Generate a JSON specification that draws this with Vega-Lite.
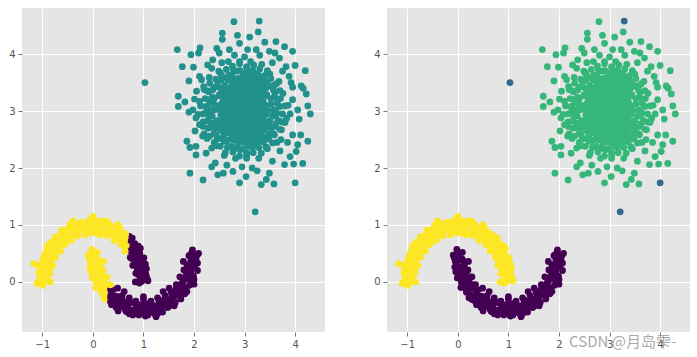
{
"$schema": "https://vega.github.io/schema/vega-lite/v6.json",
"background": "white",
"padding": {"left": 8, "top": 8, "right": 0, "bottom": 0},
"spacing": 48,
"config": {
"view": {"fill": "#e5e5e5", "stroke": null},
"axis": {"grid": true, "gridColor": "white", "gridWidth": 1, "domain": false, "tickColor": "#555555", "tickSize": 4, "tickWidth": 0.8, "labelColor": "#555555", "labelFont": "DejaVu Sans", "labelFontSize": 10, "labelPadding": 3, "title": null, "format": "d"},
"axisY": {"minExtent": 14, "maxExtent": 14}
},
"data": {"values": [
{"x":2.87,"y":2.47,"k":"B"},{"x":2.98,"y":2.45,"k":"B"},{"x":3.06,"y":2.48,"k":"B"},
{"x":2.75,"y":2.55,"k":"B"},{"x":2.83,"y":2.53,"k":"B"},{"x":2.93,"y":2.55,"k":"B"},{"x":3.02,"y":2.54,"k":"B"},{"x":3.11,"y":2.52,"k":"B"},{"x":3.19,"y":2.55,"k":"B"},
{"x":2.61,"y":2.63,"k":"B"},{"x":2.71,"y":2.61,"k":"B"},{"x":2.79,"y":2.62,"k":"B"},{"x":2.89,"y":2.64,"k":"B"},{"x":2.96,"y":2.61,"k":"B"},{"x":3.06,"y":2.63,"k":"B"},{"x":3.16,"y":2.62,"k":"B"},{"x":3.23,"y":2.60,"k":"B"},{"x":3.33,"y":2.63,"k":"B"},
{"x":2.57,"y":2.71,"k":"B"},{"x":2.65,"y":2.69,"k":"B"},{"x":2.75,"y":2.70,"k":"B"},{"x":2.84,"y":2.72,"k":"B"},{"x":2.92,"y":2.70,"k":"B"},{"x":3.02,"y":2.69,"k":"B"},{"x":3.10,"y":2.71,"k":"B"},{"x":3.20,"y":2.70,"k":"B"},{"x":3.28,"y":2.68,"k":"B"},{"x":3.38,"y":2.71,"k":"B"},
{"x":2.52,"y":2.79,"k":"B"},{"x":2.62,"y":2.77,"k":"B"},{"x":2.70,"y":2.78,"k":"B"},{"x":2.79,"y":2.80,"k":"B"},{"x":2.88,"y":2.77,"k":"B"},{"x":2.97,"y":2.79,"k":"B"},{"x":3.07,"y":2.78,"k":"B"},{"x":3.15,"y":2.76,"k":"B"},{"x":3.24,"y":2.79,"k":"B"},{"x":3.33,"y":2.78,"k":"B"},{"x":3.42,"y":2.80,"k":"B"},
{"x":2.56,"y":2.87,"k":"B"},{"x":2.66,"y":2.85,"k":"B"},{"x":2.74,"y":2.86,"k":"B"},{"x":2.84,"y":2.87,"k":"B"},{"x":2.93,"y":2.85,"k":"B"},{"x":3.01,"y":2.86,"k":"B"},{"x":3.11,"y":2.87,"k":"B"},{"x":3.19,"y":2.85,"k":"B"},{"x":3.29,"y":2.86,"k":"B"},{"x":3.37,"y":2.88,"k":"B"},
{"x":2.53,"y":2.93,"k":"B"},{"x":2.61,"y":2.95,"k":"B"},{"x":2.71,"y":2.94,"k":"B"},{"x":2.79,"y":2.93,"k":"B"},{"x":2.88,"y":2.95,"k":"B"},{"x":2.97,"y":2.94,"k":"B"},{"x":3.06,"y":2.96,"k":"B"},{"x":3.16,"y":2.94,"k":"B"},{"x":3.24,"y":2.93,"k":"B"},{"x":3.34,"y":2.95,"k":"B"},{"x":3.42,"y":2.94,"k":"B"},
{"x":2.48,"y":3.03,"k":"B"},{"x":2.56,"y":3.01,"k":"B"},{"x":2.66,"y":3.02,"k":"B"},{"x":2.75,"y":3.04,"k":"B"},{"x":2.83,"y":3.02,"k":"B"},{"x":2.93,"y":3.01,"k":"B"},{"x":3.02,"y":3.03,"k":"B"},{"x":3.10,"y":3.02,"k":"B"},{"x":3.20,"y":3.00,"k":"B"},{"x":3.28,"y":3.03,"k":"B"},{"x":3.38,"y":3.02,"k":"B"},{"x":3.46,"y":3.01,"k":"B"},
{"x":2.52,"y":3.11,"k":"B"},{"x":2.61,"y":3.09,"k":"B"},{"x":2.70,"y":3.10,"k":"B"},{"x":2.80,"y":3.11,"k":"B"},{"x":2.88,"y":3.09,"k":"B"},{"x":2.98,"y":3.10,"k":"B"},{"x":3.06,"y":3.12,"k":"B"},{"x":3.15,"y":3.10,"k":"B"},{"x":3.25,"y":3.09,"k":"B"},{"x":3.33,"y":3.11,"k":"B"},{"x":3.41,"y":3.10,"k":"B"},
{"x":2.57,"y":3.17,"k":"B"},{"x":2.65,"y":3.19,"k":"B"},{"x":2.75,"y":3.18,"k":"B"},{"x":2.83,"y":3.17,"k":"B"},{"x":2.93,"y":3.19,"k":"B"},{"x":3.01,"y":3.18,"k":"B"},{"x":3.11,"y":3.16,"k":"B"},{"x":3.19,"y":3.18,"k":"B"},{"x":3.29,"y":3.19,"k":"B"},{"x":3.37,"y":3.17,"k":"B"},
{"x":2.52,"y":3.27,"k":"B"},{"x":2.62,"y":3.25,"k":"B"},{"x":2.70,"y":3.26,"k":"B"},{"x":2.79,"y":3.28,"k":"B"},{"x":2.89,"y":3.26,"k":"B"},{"x":2.97,"y":3.25,"k":"B"},{"x":3.06,"y":3.27,"k":"B"},{"x":3.16,"y":3.26,"k":"B"},{"x":3.24,"y":3.24,"k":"B"},{"x":3.33,"y":3.26,"k":"B"},{"x":3.43,"y":3.27,"k":"B"},
{"x":2.56,"y":3.33,"k":"B"},{"x":2.66,"y":3.35,"k":"B"},{"x":2.74,"y":3.34,"k":"B"},{"x":2.84,"y":3.33,"k":"B"},{"x":2.92,"y":3.35,"k":"B"},{"x":3.02,"y":3.34,"k":"B"},{"x":3.10,"y":3.33,"k":"B"},{"x":3.20,"y":3.35,"k":"B"},{"x":3.28,"y":3.34,"k":"B"},{"x":3.38,"y":3.33,"k":"B"},
{"x":2.61,"y":3.43,"k":"B"},{"x":2.70,"y":3.41,"k":"B"},{"x":2.79,"y":3.42,"k":"B"},{"x":2.88,"y":3.44,"k":"B"},{"x":2.97,"y":3.42,"k":"B"},{"x":3.07,"y":3.41,"k":"B"},{"x":3.15,"y":3.43,"k":"B"},{"x":3.24,"y":3.42,"k":"B"},{"x":3.33,"y":3.40,"k":"B"},
{"x":2.75,"y":3.51,"k":"B"},{"x":2.83,"y":3.49,"k":"B"},{"x":2.93,"y":3.50,"k":"B"},{"x":3.02,"y":3.52,"k":"B"},{"x":3.10,"y":3.50,"k":"B"},{"x":3.20,"y":3.49,"k":"B"},
{"x":2.88,"y":3.57,"k":"B"},{"x":2.97,"y":3.59,"k":"B"},{"x":3.06,"y":3.58,"k":"B"},
{"x":3.58,"y":3.02,"k":"B"},{"x":3.52,"y":3.12,"k":"B"},{"x":3.52,"y":3.22,"k":"B"},{"x":3.44,"y":3.29,"k":"B"},{"x":3.43,"y":3.41,"k":"B"},{"x":3.34,"y":3.46,"k":"B"},{"x":3.26,"y":3.51,"k":"B"},{"x":3.18,"y":3.60,"k":"B"},{"x":3.07,"y":3.56,"k":"B"},{"x":2.97,"y":3.62,"k":"B"},{"x":2.87,"y":3.57,"k":"B"},{"x":2.77,"y":3.57,"k":"B"},
{"x":2.67,"y":3.55,"k":"B"},{"x":2.61,"y":3.45,"k":"B"},{"x":2.52,"y":3.40,"k":"B"},{"x":2.50,"y":3.29,"k":"B"},{"x":2.41,"y":3.23,"k":"B"},{"x":2.40,"y":3.12,"k":"B"},{"x":2.40,"y":3.02,"k":"B"},{"x":2.36,"y":2.91,"k":"B"},{"x":2.45,"y":2.83,"k":"B"},{"x":2.45,"y":2.72,"k":"B"},{"x":2.54,"y":2.66,"k":"B"},{"x":2.59,"y":2.57,"k":"B"},
{"x":2.67,"y":2.49,"k":"B"},{"x":2.78,"y":2.49,"k":"B"},{"x":2.87,"y":2.44,"k":"B"},{"x":2.97,"y":2.48,"k":"B"},{"x":3.07,"y":2.43,"k":"B"},{"x":3.17,"y":2.48,"k":"B"},{"x":3.26,"y":2.53,"k":"B"},{"x":3.37,"y":2.55,"k":"B"},{"x":3.39,"y":2.67,"k":"B"},{"x":3.49,"y":2.72,"k":"B"},{"x":3.50,"y":2.83,"k":"B"},{"x":3.55,"y":2.92,"k":"B"},
{"x":3.61,"y":3.02,"k":"B"},{"x":3.64,"y":3.14,"k":"B"},{"x":3.59,"y":3.25,"k":"B"},{"x":3.57,"y":3.37,"k":"B"},{"x":3.47,"y":3.44,"k":"B"},{"x":3.40,"y":3.53,"k":"B"},{"x":3.29,"y":3.57,"k":"B"},{"x":3.20,"y":3.66,"k":"B"},{"x":3.09,"y":3.67,"k":"B"},{"x":2.97,"y":3.66,"k":"B"},{"x":2.85,"y":3.70,"k":"B"},{"x":2.75,"y":3.63,"k":"B"},
{"x":2.65,"y":3.57,"k":"B"},{"x":2.53,"y":3.54,"k":"B"},{"x":2.46,"y":3.44,"k":"B"},{"x":2.37,"y":3.37,"k":"B"},{"x":2.36,"y":3.24,"k":"B"},{"x":2.31,"y":3.14,"k":"B"},{"x":2.34,"y":3.02,"k":"B"},{"x":2.30,"y":2.90,"k":"B"},{"x":2.35,"y":2.79,"k":"B"},{"x":2.42,"y":2.70,"k":"B"},{"x":2.44,"y":2.58,"k":"B"},{"x":2.55,"y":2.52,"k":"B"},
{"x":2.65,"y":2.47,"k":"B"},{"x":2.74,"y":2.38,"k":"B"},{"x":2.86,"y":2.37,"k":"B"},{"x":2.97,"y":2.33,"k":"B"},{"x":3.08,"y":2.38,"k":"B"},{"x":3.20,"y":2.39,"k":"B"},{"x":3.29,"y":2.47,"k":"B"},{"x":3.41,"y":2.50,"k":"B"},{"x":3.48,"y":2.60,"k":"B"},{"x":3.52,"y":2.70,"k":"B"},{"x":3.62,"y":2.78,"k":"B"},{"x":3.61,"y":2.91,"k":"B"},
{"x":3.70,"y":3.08,"k":"B"},{"x":3.66,"y":3.20,"k":"B"},{"x":3.60,"y":3.32,"k":"B"},{"x":3.58,"y":3.45,"k":"B"},{"x":3.45,"y":3.50,"k":"B"},{"x":3.39,"y":3.62,"k":"B"},{"x":3.26,"y":3.65,"k":"B"},{"x":3.16,"y":3.72,"k":"B"},{"x":3.04,"y":3.76,"k":"B"},{"x":2.91,"y":3.71,"k":"B"},{"x":2.78,"y":3.72,"k":"B"},{"x":2.69,"y":3.63,"k":"B"},
{"x":2.55,"y":3.62,"k":"B"},{"x":2.47,"y":3.52,"k":"B"},{"x":2.40,"y":3.42,"k":"B"},{"x":2.29,"y":3.34,"k":"B"},{"x":2.31,"y":3.20,"k":"B"},{"x":2.24,"y":3.08,"k":"B"},{"x":2.28,"y":2.96,"k":"B"},{"x":2.27,"y":2.83,"k":"B"},{"x":2.30,"y":2.71,"k":"B"},{"x":2.40,"y":2.62,"k":"B"},{"x":2.46,"y":2.51,"k":"B"},{"x":2.59,"y":2.47,"k":"B"},
{"x":2.66,"y":2.36,"k":"B"},{"x":2.79,"y":2.33,"k":"B"},{"x":2.91,"y":2.32,"k":"B"},{"x":3.04,"y":2.27,"k":"B"},{"x":3.15,"y":2.36,"k":"B"},{"x":3.28,"y":2.36,"k":"B"},{"x":3.37,"y":2.46,"k":"B"},{"x":3.48,"y":2.51,"k":"B"},{"x":3.58,"y":2.60,"k":"B"},{"x":3.60,"y":2.73,"k":"B"},{"x":3.67,"y":2.83,"k":"B"},{"x":3.64,"y":2.96,"k":"B"},
{"x":3.80,"y":3.09,"k":"B"},{"x":3.71,"y":3.22,"k":"B"},{"x":3.70,"y":3.36,"k":"B"},{"x":3.63,"y":3.48,"k":"B"},{"x":3.52,"y":3.57,"k":"B"},{"x":3.45,"y":3.71,"k":"B"},{"x":3.30,"y":3.74,"k":"B"},{"x":3.18,"y":3.81,"k":"B"},{"x":3.04,"y":3.78,"k":"B"},{"x":2.90,"y":3.83,"k":"B"},{"x":2.76,"y":3.79,"k":"B"},{"x":2.64,"y":3.73,"k":"B"},
{"x":2.52,"y":3.67,"k":"B"},{"x":2.43,"y":3.56,"k":"B"},{"x":2.31,"y":3.49,"k":"B"},{"x":2.25,"y":3.36,"k":"B"},{"x":2.22,"y":3.22,"k":"B"},{"x":2.13,"y":3.09,"k":"B"},{"x":2.18,"y":2.95,"k":"B"},{"x":2.18,"y":2.81,"k":"B"},{"x":2.28,"y":2.70,"k":"B"},{"x":2.31,"y":2.56,"k":"B"},{"x":2.40,"y":2.45,"k":"B"},{"x":2.52,"y":2.38,"k":"B"},
{"x":2.62,"y":2.27,"k":"B"},{"x":2.77,"y":2.28,"k":"B"},{"x":2.90,"y":2.21,"k":"B"},{"x":3.04,"y":2.22,"k":"B"},{"x":3.17,"y":2.27,"k":"B"},{"x":3.33,"y":2.26,"k":"B"},{"x":3.42,"y":2.37,"k":"B"},{"x":3.55,"y":2.44,"k":"B"},{"x":3.59,"y":2.58,"k":"B"},{"x":3.70,"y":2.68,"k":"B"},{"x":3.74,"y":2.81,"k":"B"},{"x":3.75,"y":2.95,"k":"B"},
{"x":3.86,"y":3.10,"k":"B"},{"x":3.76,"y":3.31,"k":"B"},{"x":3.68,"y":3.52,"k":"B"},{"x":3.50,"y":3.65,"k":"B"},{"x":3.34,"y":3.82,"k":"B"},{"x":3.12,"y":3.87,"k":"B"},{"x":2.90,"y":3.87,"k":"B"},{"x":2.68,"y":3.87,"k":"B"},{"x":2.49,"y":3.70,"k":"B"},{"x":2.30,"y":3.59,"k":"B"},{"x":2.20,"y":3.38,"k":"B"},{"x":2.11,"y":3.17,"k":"B"},
{"x":2.08,"y":2.94,"k":"B"},{"x":2.18,"y":2.73,"k":"B"},{"x":2.26,"y":2.52,"k":"B"},{"x":2.44,"y":2.39,"k":"B"},{"x":2.60,"y":2.22,"k":"B"},{"x":2.82,"y":2.17,"k":"B"},{"x":3.04,"y":2.17,"k":"B"},{"x":3.28,"y":2.17,"k":"B"},{"x":3.45,"y":2.34,"k":"B"},{"x":3.64,"y":2.45,"k":"B"},{"x":3.73,"y":2.67,"k":"B"},{"x":3.83,"y":2.87,"k":"B"},
{"x":3.95,"y":3.20,"k":"B"},{"x":3.90,"y":2.95,"k":"B"},{"x":3.85,"y":2.45,"k":"B"},{"x":3.70,"y":2.30,"k":"B"},{"x":3.55,"y":2.12,"k":"B"},{"x":3.15,"y":2.00,"k":"B"},{"x":2.95,"y":2.02,"k":"B"},{"x":2.65,"y":2.05,"k":"B"},{"x":2.35,"y":2.35,"k":"B"},{"x":2.20,"y":2.60,"k":"B"},{"x":2.02,"y":2.65,"k":"B"},{"x":2.05,"y":3.35,"k":"B"},
{"x":2.15,"y":3.55,"k":"B"},{"x":2.35,"y":3.75,"k":"B"},{"x":2.55,"y":3.85,"k":"B"},{"x":2.80,"y":3.98,"k":"B"},{"x":3.00,"y":3.95,"k":"B"},{"x":3.30,"y":3.98,"k":"B"},{"x":3.55,"y":3.85,"k":"B"},{"x":3.75,"y":3.70,"k":"B"},{"x":3.92,"y":3.50,"k":"B"},{"x":4.00,"y":3.80,"k":"B"},{"x":3.72,"y":2.50,"k":"B"},{"x":2.25,"y":3.05,"k":"B"},
{"x":3.60,"y":4.02,"k":"B"},{"x":2.45,"y":4.10,"k":"B"},{"x":3.10,"y":4.30,"k":"B"},{"x":2.35,"y":2.02,"k":"B"},{"x":3.25,"y":1.95,"k":"B"},{"x":3.80,"y":2.80,"k":"B"},
{"x":1.67,"y":4.08,"k":"B"},{"x":1.77,"y":3.78,"k":"B"},{"x":1.94,"y":3.99,"k":"B"},{"x":1.99,"y":3.77,"k":"B"},{"x":1.90,"y":3.53,"k":"B"},{"x":1.69,"y":3.26,"k":"B"},{"x":1.69,"y":3.08,"k":"B"},{"x":1.82,"y":3.16,"k":"B"},{"x":2.01,"y":3.21,"k":"B"},{"x":1.90,"y":2.98,"k":"B"},
{"x":1.86,"y":2.47,"k":"B"},{"x":1.92,"y":2.36,"k":"B"},{"x":2.04,"y":2.23,"k":"B"},{"x":1.92,"y":1.91,"k":"B"},{"x":2.18,"y":1.79,"k":"B"},{"x":2.90,"y":1.74,"k":"B"},{"x":3.33,"y":1.71,"k":"B"},{"x":3.58,"y":1.72,"k":"B"},{"x":3.97,"y":2.07,"k":"B"},{"x":4.15,"y":2.08,"k":"B"},
{"x":4.25,"y":2.47,"k":"B"},{"x":4.30,"y":2.95,"k":"B"},{"x":4.25,"y":3.09,"k":"B"},{"x":4.22,"y":3.30,"k":"B"},{"x":4.20,"y":3.71,"k":"B"},{"x":3.95,"y":4.05,"k":"B"},{"x":3.79,"y":4.13,"k":"B"},{"x":3.62,"y":4.22,"k":"B"},{"x":3.40,"y":4.21,"k":"B"},{"x":3.27,"y":4.39,"k":"B"},
{"x":2.79,"y":4.57,"k":"B"},{"x":2.56,"y":4.37,"k":"B"},{"x":2.56,"y":4.26,"k":"B"},{"x":2.86,"y":4.33,"k":"B"},{"x":2.90,"y":4.19,"k":"B"},{"x":2.12,"y":4.11,"k":"B"},{"x":2.09,"y":4.02,"k":"B"},{"x":3.95,"y":3.42,"k":"B"},{"x":4.12,"y":3.44,"k":"B"},{"x":4.16,"y":3.40,"k":"B"},
{"x":4.05,"y":3.02,"k":"B"},{"x":4.08,"y":2.86,"k":"B"},{"x":4.11,"y":2.58,"k":"B"},{"x":3.95,"y":2.58,"k":"B"},{"x":4.05,"y":2.41,"k":"B"},{"x":4.02,"y":2.29,"k":"B"},{"x":3.90,"y":2.20,"k":"B"},{"x":3.79,"y":2.06,"k":"B"},{"x":3.49,"y":1.91,"k":"B"},{"x":3.43,"y":1.80,"k":"B"},
{"x":3.03,"y":1.85,"k":"B"},{"x":2.77,"y":1.94,"k":"B"},{"x":2.58,"y":1.91,"k":"B"},{"x":2.47,"y":1.88,"k":"B"},{"x":2.42,"y":2.09,"k":"B"},{"x":2.24,"y":2.26,"k":"B"},{"x":2.04,"y":2.38,"k":"B"},{"x":2.17,"y":2.56,"k":"B"},{"x":2.11,"y":2.76,"k":"B"},{"x":2.04,"y":2.88,"k":"B"},
{"x":1.98,"y":3.02,"k":"B"},{"x":2.19,"y":3.43,"k":"B"},{"x":2.11,"y":3.61,"k":"B"},{"x":2.27,"y":3.81,"k":"B"},{"x":2.37,"y":3.90,"k":"B"},{"x":2.50,"y":4.02,"k":"B"},{"x":2.70,"y":4.08,"k":"B"},{"x":3.06,"y":4.08,"k":"B"},{"x":3.23,"y":4.08,"k":"B"},{"x":3.49,"y":4.05,"k":"B"},
{"x":3.69,"y":3.93,"k":"B"},{"x":3.82,"y":3.78,"k":"B"},{"x":3.88,"y":3.61,"k":"B"},
{"x":1.03,"y":3.50,"k":"O"},{"x":3.21,"y":1.23,"k":"O"},{"x":3.29,"y":4.58,"k":"O"},{"x":4.00,"y":1.74,"k":"O"},
{"x":0.92,"y":-0.02,"k":"Up"},{"x":0.97,"y":0.01,"k":"Up"},{"x":1.09,"y":0.02,"k":"Up"},
{"x":0.93,"y":0.09,"k":"Up"},{"x":1.04,"y":0.06,"k":"Up"},{"x":1.07,"y":0.07,"k":"Up"},
{"x":0.90,"y":0.13,"k":"Up"},{"x":0.96,"y":0.12,"k":"Up"},{"x":1.05,"y":0.13,"k":"Up"},
{"x":0.88,"y":0.18,"k":"Up"},{"x":0.99,"y":0.23,"k":"Up"},{"x":1.06,"y":0.23,"k":"Up"},
{"x":0.88,"y":0.23,"k":"Up"},{"x":0.95,"y":0.29,"k":"Up"},{"x":1.04,"y":0.31,"k":"Up"},
{"x":0.85,"y":0.33,"k":"Up"},{"x":0.95,"y":0.33,"k":"Up"},{"x":0.99,"y":0.36,"k":"Up"},
{"x":0.88,"y":0.39,"k":"Up"},{"x":0.93,"y":0.39,"k":"Up"},{"x":1.01,"y":0.42,"k":"Up"},
{"x":0.77,"y":0.41,"k":"Up"},{"x":0.87,"y":0.48,"k":"Up"},{"x":0.93,"y":0.50,"k":"Up"},
{"x":0.79,"y":0.47,"k":"Up"},{"x":0.83,"y":0.54,"k":"Up"},{"x":0.94,"y":0.59,"k":"Up"},
{"x":0.72,"y":0.55,"k":"Up"},{"x":0.84,"y":0.58,"k":"Up"},{"x":0.84,"y":0.61,"k":"Up"},
{"x":0.72,"y":0.60,"k":"Up"},{"x":0.76,"y":0.62,"k":"Up"},{"x":0.83,"y":0.67,"k":"Up"},
{"x":0.66,"y":0.64,"k":"U"},{"x":0.74,"y":0.73,"k":"Up"},{"x":0.78,"y":0.77,"k":"Up"},
{"x":0.61,"y":0.64,"k":"U"},{"x":0.63,"y":0.73,"k":"U"},{"x":0.72,"y":0.80,"k":"Up"},
{"x":0.56,"y":0.75,"k":"U"},{"x":0.64,"y":0.78,"k":"U"},{"x":0.65,"y":0.84,"k":"U"},
{"x":0.52,"y":0.76,"k":"U"},{"x":0.56,"y":0.82,"k":"U"},{"x":0.60,"y":0.86,"k":"U"},
{"x":0.44,"y":0.78,"k":"U"},{"x":0.51,"y":0.88,"k":"U"},{"x":0.54,"y":0.94,"k":"U"},
{"x":0.42,"y":0.83,"k":"U"},{"x":0.43,"y":0.93,"k":"U"},{"x":0.50,"y":1.00,"k":"U"},
{"x":0.32,"y":0.85,"k":"U"},{"x":0.38,"y":0.89,"k":"U"},{"x":0.37,"y":0.96,"k":"U"},
{"x":0.30,"y":0.89,"k":"U"},{"x":0.31,"y":0.93,"k":"U"},{"x":0.34,"y":1.01,"k":"U"},
{"x":0.20,"y":0.86,"k":"U"},{"x":0.25,"y":1.00,"k":"U"},{"x":0.26,"y":1.04,"k":"U"},
{"x":0.17,"y":0.88,"k":"U"},{"x":0.15,"y":0.99,"k":"U"},{"x":0.21,"y":1.07,"k":"U"},
{"x":0.09,"y":0.95,"k":"U"},{"x":0.13,"y":1.00,"k":"U"},{"x":0.09,"y":1.07,"k":"U"},
{"x":0.05,"y":0.90,"k":"U"},{"x":0.03,"y":0.95,"k":"U"},{"x":0.05,"y":1.03,"k":"U"},
{"x":-0.05,"y":0.91,"k":"U"},{"x":-0.02,"y":1.02,"k":"U"},{"x":-0.04,"y":1.09,"k":"U"},
{"x":-0.08,"y":0.88,"k":"U"},{"x":-0.13,"y":1.01,"k":"U"},{"x":-0.09,"y":1.07,"k":"U"},
{"x":-0.17,"y":0.92,"k":"U"},{"x":-0.15,"y":0.97,"k":"U"},{"x":-0.21,"y":1.04,"k":"U"},
{"x":-0.21,"y":0.92,"k":"U"},{"x":-0.25,"y":0.97,"k":"U"},{"x":-0.25,"y":1.04,"k":"U"},
{"x":-0.30,"y":0.84,"k":"U"},{"x":-0.29,"y":0.94,"k":"U"},{"x":-0.32,"y":1.01,"k":"U"},
{"x":-0.33,"y":0.83,"k":"U"},{"x":-0.39,"y":0.94,"k":"U"},{"x":-0.38,"y":1.02,"k":"U"},
{"x":-0.40,"y":0.83,"k":"U"},{"x":-0.42,"y":0.90,"k":"U"},{"x":-0.48,"y":0.94,"k":"U"},
{"x":-0.43,"y":0.80,"k":"U"},{"x":-0.50,"y":0.84,"k":"U"},{"x":-0.52,"y":0.91,"k":"U"},
{"x":-0.55,"y":0.77,"k":"U"},{"x":-0.56,"y":0.87,"k":"U"},{"x":-0.61,"y":0.91,"k":"U"},
{"x":-0.54,"y":0.68,"k":"U"},{"x":-0.62,"y":0.77,"k":"U"},{"x":-0.63,"y":0.85,"k":"U"},
{"x":-0.63,"y":0.70,"k":"U"},{"x":-0.65,"y":0.73,"k":"U"},{"x":-0.74,"y":0.79,"k":"U"},
{"x":-0.63,"y":0.64,"k":"U"},{"x":-0.73,"y":0.68,"k":"U"},{"x":-0.75,"y":0.72,"k":"U"},
{"x":-0.72,"y":0.57,"k":"U"},{"x":-0.75,"y":0.66,"k":"U"},{"x":-0.82,"y":0.70,"k":"U"},
{"x":-0.75,"y":0.53,"k":"U"},{"x":-0.85,"y":0.61,"k":"U"},{"x":-0.86,"y":0.66,"k":"U"},
{"x":-0.77,"y":0.49,"k":"U"},{"x":-0.80,"y":0.50,"k":"U"},{"x":-0.91,"y":0.55,"k":"U"},
{"x":-0.79,"y":0.44,"k":"U"},{"x":-0.88,"y":0.45,"k":"U"},{"x":-0.94,"y":0.49,"k":"U"},
{"x":-0.84,"y":0.36,"k":"U"},{"x":-0.91,"y":0.43,"k":"U"},{"x":-0.97,"y":0.44,"k":"U"},
{"x":-0.85,"y":0.29,"k":"U"},{"x":-0.95,"y":0.35,"k":"U"},{"x":-0.99,"y":0.39,"k":"U"},
{"x":-0.91,"y":0.28,"k":"U"},{"x":-0.96,"y":0.27,"k":"U"},{"x":-1.07,"y":0.29,"k":"U"},
{"x":-0.85,"y":0.20,"k":"U"},{"x":-0.95,"y":0.18,"k":"U"},{"x":-1.02,"y":0.20,"k":"U"},
{"x":-0.93,"y":0.12,"k":"U"},{"x":-0.98,"y":0.16,"k":"U"},{"x":-1.07,"y":0.16,"k":"U"},
{"x":-0.89,"y":0.04,"k":"U"},{"x":-1.03,"y":0.08,"k":"U"},{"x":-1.04,"y":0.09,"k":"U"},
{"x":-0.92,"y":0.02,"k":"U"},{"x":-0.97,"y":-0.01,"k":"U"},{"x":-1.09,"y":-0.01,"k":"U"},
{"x":-1.17,"y":0.32,"k":"U"},{"x":-1.10,"y":-0.03,"k":"U"},{"x":-0.99,"y":-0.06,"k":"U"},{"x":0.00,"y":1.15,"k":"U"},{"x":-0.40,"y":1.07,"k":"U"},{"x":0.12,"y":0.84,"k":"U"},
{"x":0.84,"y":0.00,"k":"Up"},{"x":0.85,"y":0.15,"k":"Up"},{"x":0.79,"y":0.29,"k":"Up"},{"x":0.74,"y":0.43,"k":"Up"},{"x":0.64,"y":0.54,"k":"U"},{"x":0.55,"y":0.66,"k":"U"},{"x":0.42,"y":0.73,"k":"U"},{"x":0.29,"y":0.81,"k":"U"},{"x":0.15,"y":0.83,"k":"U"},{"x":0.00,"y":0.86,"k":"U"},
{"x":-0.15,"y":0.83,"k":"U"},{"x":-0.29,"y":0.81,"k":"U"},{"x":-0.42,"y":0.73,"k":"U"},{"x":-0.55,"y":0.66,"k":"U"},{"x":-0.64,"y":0.54,"k":"U"},{"x":-0.74,"y":0.43,"k":"U"},{"x":-0.79,"y":0.29,"k":"U"},{"x":-0.85,"y":0.15,"k":"U"},{"x":-0.84,"y":0.00,"k":"U"},
{"x":0.90,"y":0.63,"k":"Up"},{"x":0.28,"y":1.06,"k":"U"},{"x":-0.46,"y":1.00,"k":"U"},{"x":-0.90,"y":0.63,"k":"U"},{"x":-1.06,"y":0.28,"k":"U"},
{"x":0.09,"y":0.52,"k":"Ly"},{"x":0.02,"y":0.50,"k":"Ly"},{"x":-0.09,"y":0.47,"k":"Ly"},
{"x":0.08,"y":0.41,"k":"Ly"},{"x":-0.05,"y":0.45,"k":"Ly"},{"x":-0.07,"y":0.42,"k":"Ly"},
{"x":0.11,"y":0.37,"k":"Ly"},{"x":0.03,"y":0.39,"k":"Ly"},{"x":-0.05,"y":0.36,"k":"Ly"},
{"x":0.13,"y":0.32,"k":"Ly"},{"x":0.00,"y":0.28,"k":"Ly"},{"x":-0.06,"y":0.26,"k":"Ly"},
{"x":0.13,"y":0.27,"k":"Ly"},{"x":0.04,"y":0.22,"k":"Ly"},{"x":-0.04,"y":0.18,"k":"Ly"},
{"x":0.16,"y":0.17,"k":"Ly"},{"x":0.04,"y":0.18,"k":"Ly"},{"x":0.01,"y":0.13,"k":"Ly"},
{"x":0.13,"y":0.11,"k":"Ly"},{"x":0.06,"y":0.12,"k":"Ly"},{"x":-0.01,"y":0.07,"k":"Ly"},
{"x":0.24,"y":0.09,"k":"Ly"},{"x":0.12,"y":0.03,"k":"Ly"},{"x":0.07,"y":-0.01,"k":"Ly"},
{"x":0.22,"y":0.03,"k":"Ly"},{"x":0.16,"y":-0.03,"k":"Ly"},{"x":0.06,"y":-0.10,"k":"Ly"},
{"x":0.29,"y":-0.05,"k":"Ly"},{"x":0.15,"y":-0.07,"k":"Ly"},{"x":0.16,"y":-0.12,"k":"Ly"},
{"x":0.29,"y":-0.10,"k":"Ly"},{"x":0.23,"y":-0.11,"k":"Ly"},{"x":0.17,"y":-0.18,"k":"Ly"},
{"x":0.35,"y":-0.14,"k":"L"},{"x":0.25,"y":-0.22,"k":"Ly"},{"x":0.22,"y":-0.28,"k":"Ly"},
{"x":0.40,"y":-0.14,"k":"L"},{"x":0.36,"y":-0.22,"k":"L"},{"x":0.28,"y":-0.31,"k":"Ly"},
{"x":0.45,"y":-0.25,"k":"L"},{"x":0.35,"y":-0.27,"k":"L"},{"x":0.35,"y":-0.35,"k":"L"},
{"x":0.49,"y":-0.26,"k":"L"},{"x":0.43,"y":-0.31,"k":"L"},{"x":0.40,"y":-0.37,"k":"L"},
{"x":0.57,"y":-0.28,"k":"L"},{"x":0.48,"y":-0.37,"k":"L"},{"x":0.46,"y":-0.45,"k":"L"},
{"x":0.59,"y":-0.33,"k":"L"},{"x":0.56,"y":-0.42,"k":"L"},{"x":0.50,"y":-0.51,"k":"L"},
{"x":0.69,"y":-0.35,"k":"L"},{"x":0.61,"y":-0.38,"k":"L"},{"x":0.63,"y":-0.47,"k":"L"},
{"x":0.71,"y":-0.39,"k":"L"},{"x":0.68,"y":-0.42,"k":"L"},{"x":0.66,"y":-0.52,"k":"L"},
{"x":0.81,"y":-0.36,"k":"L"},{"x":0.74,"y":-0.49,"k":"L"},{"x":0.74,"y":-0.55,"k":"L"},
{"x":0.84,"y":-0.38,"k":"L"},{"x":0.84,"y":-0.48,"k":"L"},{"x":0.79,"y":-0.58,"k":"L"},
{"x":0.92,"y":-0.45,"k":"L"},{"x":0.86,"y":-0.49,"k":"L"},{"x":0.91,"y":-0.58,"k":"L"},
{"x":0.96,"y":-0.40,"k":"L"},{"x":0.96,"y":-0.44,"k":"L"},{"x":0.95,"y":-0.54,"k":"L"},
{"x":1.06,"y":-0.41,"k":"L"},{"x":1.01,"y":-0.51,"k":"L"},{"x":1.04,"y":-0.60,"k":"L"},
{"x":1.09,"y":-0.38,"k":"L"},{"x":1.12,"y":-0.50,"k":"L"},{"x":1.09,"y":-0.58,"k":"L"},
{"x":1.18,"y":-0.42,"k":"L"},{"x":1.14,"y":-0.46,"k":"L"},{"x":1.21,"y":-0.55,"k":"L"},
{"x":1.22,"y":-0.42,"k":"L"},{"x":1.24,"y":-0.46,"k":"L"},{"x":1.25,"y":-0.55,"k":"L"},
{"x":1.31,"y":-0.34,"k":"L"},{"x":1.28,"y":-0.43,"k":"L"},{"x":1.32,"y":-0.52,"k":"L"},
{"x":1.34,"y":-0.33,"k":"L"},{"x":1.38,"y":-0.43,"k":"L"},{"x":1.38,"y":-0.53,"k":"L"},
{"x":1.41,"y":-0.33,"k":"L"},{"x":1.41,"y":-0.39,"k":"L"},{"x":1.48,"y":-0.45,"k":"L"},
{"x":1.44,"y":-0.30,"k":"L"},{"x":1.49,"y":-0.33,"k":"L"},{"x":1.52,"y":-0.42,"k":"L"},
{"x":1.56,"y":-0.27,"k":"L"},{"x":1.55,"y":-0.36,"k":"L"},{"x":1.61,"y":-0.42,"k":"L"},
{"x":1.55,"y":-0.18,"k":"L"},{"x":1.61,"y":-0.26,"k":"L"},{"x":1.63,"y":-0.36,"k":"L"},
{"x":1.64,"y":-0.20,"k":"L"},{"x":1.64,"y":-0.22,"k":"L"},{"x":1.74,"y":-0.30,"k":"L"},
{"x":1.64,"y":-0.14,"k":"L"},{"x":1.72,"y":-0.17,"k":"L"},{"x":1.75,"y":-0.23,"k":"L"},
{"x":1.73,"y":-0.07,"k":"L"},{"x":1.74,"y":-0.15,"k":"L"},{"x":1.82,"y":-0.21,"k":"L"},
{"x":1.76,"y":-0.03,"k":"L"},{"x":1.84,"y":-0.10,"k":"L"},{"x":1.86,"y":-0.17,"k":"L"},
{"x":1.78,"y":0.01,"k":"L"},{"x":1.79,"y":0.01,"k":"L"},{"x":1.91,"y":-0.06,"k":"L"},
{"x":1.80,"y":0.06,"k":"L"},{"x":1.87,"y":0.06,"k":"L"},{"x":1.94,"y":0.00,"k":"L"},
{"x":1.85,"y":0.14,"k":"L"},{"x":1.90,"y":0.08,"k":"L"},{"x":1.97,"y":0.05,"k":"L"},
{"x":1.86,"y":0.21,"k":"L"},{"x":1.94,"y":0.16,"k":"L"},{"x":1.99,"y":0.10,"k":"L"},
{"x":1.92,"y":0.22,"k":"L"},{"x":1.95,"y":0.24,"k":"L"},{"x":2.07,"y":0.20,"k":"L"},
{"x":1.86,"y":0.30,"k":"L"},{"x":1.94,"y":0.33,"k":"L"},{"x":2.02,"y":0.29,"k":"L"},
{"x":1.94,"y":0.38,"k":"L"},{"x":1.97,"y":0.35,"k":"L"},{"x":2.07,"y":0.33,"k":"L"},
{"x":1.90,"y":0.46,"k":"L"},{"x":2.02,"y":0.43,"k":"L"},{"x":2.04,"y":0.40,"k":"L"},
{"x":1.93,"y":0.48,"k":"L"},{"x":1.96,"y":0.52,"k":"L"},{"x":2.09,"y":0.50,"k":"L"},
{"x":2.00,"y":-0.04,"k":"L"},{"x":1.97,"y":0.56,"k":"L"},{"x":1.25,"y":-0.61,"k":"L"},{"x":0.72,"y":-0.56,"k":"L"},{"x":2.06,"y":0.47,"k":"L"},{"x":-0.02,"y":0.57,"k":"Ly"},
{"x":0.21,"y":0.36,"k":"Ly"},{"x":0.28,"y":0.09,"k":"Ly"},{"x":0.49,"y":-0.11,"k":"L"},{"x":0.72,"y":-0.28,"k":"L"},{"x":1.00,"y":-0.30,"k":"L"},{"x":1.28,"y":-0.28,"k":"L"},{"x":1.51,"y":-0.11,"k":"L"},{"x":1.72,"y":0.09,"k":"L"},{"x":1.79,"y":0.36,"k":"L"},
{"x":0.62,"y":-0.17,"k":"L"},{"x":1.00,"y":-0.26,"k":"L"},{"x":1.39,"y":-0.17,"k":"L"},
{"x":0.20,"y":0.21,"k":"Ly"},{"x":0.35,"y":-0.05,"k":"Ly"},{"x":0.58,"y":-0.24,"k":"L"},{"x":0.85,"y":-0.34,"k":"L"},{"x":1.15,"y":-0.34,"k":"L"},{"x":1.43,"y":-0.24,"k":"L"},{"x":1.65,"y":-0.05,"k":"L"},{"x":1.80,"y":0.21,"k":"L"},
{"x":0.37,"y":-0.40,"k":"L"},{"x":1.28,"y":-0.56,"k":"L"},{"x":2.00,"y":0.04,"k":"L"}
]},
"resolve": {"scale": {"color": "independent"}},
"hconcat": [
{
"width": 303, "height": 324,
"mark": {"type": "circle", "size": 46, "opacity": 1},
"encoding": {
"x": {"field": "x", "type": "quantitative", "scale": {"domain": [-1.4, 4.59], "nice": false, "zero": false}, "axis": {"values": [-1, 0, 1, 2, 3, 4], "format": "d", "labelExpr": "replace(datum.label, '-', '−')"}},
"y": {"field": "y", "type": "quantitative", "scale": {"domain": [-0.88, 4.81], "nice": false, "zero": false}, "axis": {"values": [0, 1, 2, 3, 4], "format": "d"}},
"color": {"field": "k", "type": "nominal", "scale": {"domain": ["U", "Up", "L", "Ly", "B", "O"], "range": ["#fde725", "#440154", "#440154", "#fde725", "#21918c", "#21918c"]}, "legend": null}
}
},
{
"width": 303, "height": 324,
"layer": [
{
"mark": {"type": "circle", "size": 46, "opacity": 1},
"encoding": {
"x": {"field": "x", "type": "quantitative", "scale": {"domain": [-1.4, 4.59], "nice": false, "zero": false}, "axis": {"values": [-1, 0, 1, 2, 3, 4], "format": "d", "labelExpr": "replace(datum.label, '-', '−')"}},
"y": {"field": "y", "type": "quantitative", "scale": {"domain": [-0.88, 4.81], "nice": false, "zero": false}, "axis": {"values": [0, 1, 2, 3, 4], "format": "d"}},
"color": {"field": "k", "type": "nominal", "scale": {"domain": ["U", "Up", "L", "Ly", "B", "O"], "range": ["#fde725", "#fde725", "#440154", "#440154", "#35b779", "#31688e"]}, "legend": null}
}
},
{
"data": {"values": [{"t": "CSDN @月岛雫-"}]},
"mark": {"type": "text", "align": "left", "baseline": "middle", "fontSize": 15, "font": "Noto Sans CJK SC", "color": "#8c8c8c", "opacity": 0.75},
"encoding": {
"x": {"datum": 2.2, "type": "quantitative"},
"y": {"datum": -1.05, "type": "quantitative"},
"text": {"field": "t", "type": "nominal"}
}
}
]
}
]
}
